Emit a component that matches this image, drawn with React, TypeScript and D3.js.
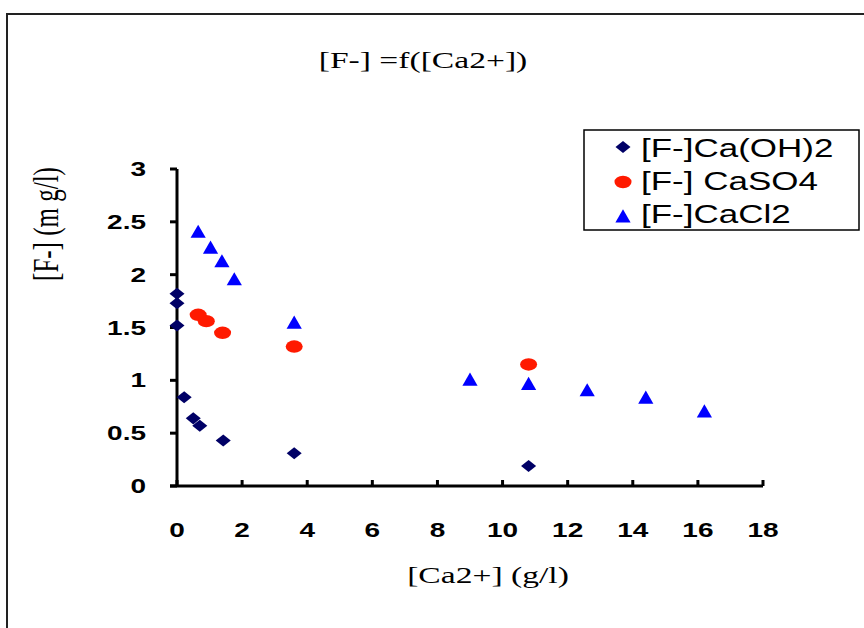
import React from 'react';
import * as d3 from 'd3';

// Ca(OH)2 series (diamonds)
const ohX = [0, 0, 0, 0.22, 0.5, 0.7, 1.42, 3.6, 10.8];
const ohY = [1.82, 1.73, 1.52, 0.84, 0.64, 0.57, 0.43, 0.31, 0.19];
// CaSO4 series (circles)
const so4X = [0.65, 0.9, 1.4, 3.6, 10.8];
const so4Y = [1.62, 1.56, 1.45, 1.32, 1.15];
// CaCl2 series (triangles)
const cl2X = [0.65, 1.03, 1.38, 1.76, 3.6, 9.0, 10.8, 12.6, 14.4, 16.2];
const cl2Y = [2.4, 2.25, 2.12, 1.95, 1.54, 1.0, 0.96, 0.9, 0.83, 0.7];

const xTicks = [0, 2, 4, 6, 8, 10, 12, 14, 16, 18];
const yTicks = [0, 0.5, 1, 1.5, 2, 2.5, 3];
const legendLabels = ['[F-]Ca(OH)2', '[F-] CaSO4', '[F-]CaCl2'];

const SX = 1.4; // the picture is stretched sideways

function Marker({kind, x, y}: {kind: string, x: number, y: number}) {
    if (kind === 'circle') {
        return <ellipse cx={x} cy={y} rx={8.5} ry={6.2} fill="#ff1a00" />;
    }
    if (kind === 'diamond') {
        const d = d3.symbol().type(d3.symbolDiamond2).size(92)() as string;
        return <path d={d} transform={`translate(${x}, ${y}) scale(1.25, 1)`} fill="#000066" />;
    }
    const d = d3.symbol().type(d3.symbolTriangle).size(100)() as string;
    return <path d={d} transform={`translate(${x}, ${y + 1})`} fill="#0000ff" />;
}

export default function App() {
    const scaleX = d3.scaleLinear().domain([0, 18]).range([177, 763]);
    const scaleY = d3.scaleLinear().domain([0, 3]).range([486, 169]);

    const series = [
        {kind: 'diamond', xs: ohX, ys: ohY},
        {kind: 'circle', xs: so4X, ys: so4Y},
        {kind: 'triangle', xs: cl2X, ys: cl2Y},
    ];

    const axisColor = '#000';
    const x0 = scaleX(0), y0 = scaleY(0);

    return (
        <svg width={864} height={628} xmlns="http://www.w3.org/2000/svg"
             style={{position: 'absolute', left: 0, top: 0, background: '#fff'}}>
            <rect x={0} y={0} width={864} height={628} fill="#fff" />
            <rect x={7} y={14} width={900} height={700} fill="none" stroke="#222" strokeWidth={2} />

            <text transform={`translate(423, 68) scale(${SX}, 1)`} textAnchor="middle"
                  fontFamily="Liberation Serif, Times New Roman, serif" fontSize={24} fill="#000">
                [F-] =f([Ca2+])
            </text>

            {/* axes */}
            <line x1={x0} x2={x0} y1={scaleY(3)} y2={y0} stroke={axisColor} strokeWidth={3} />
            <line x1={x0 - 7} x2={scaleX(18)} y1={y0} y2={y0} stroke={axisColor} strokeWidth={3} />
            {yTicks.map((v, i) =>
                <g key={`TickY_${i}`}>
                    <line x1={x0 - 7} x2={x0} y1={scaleY(v)} y2={scaleY(v)} stroke={axisColor} strokeWidth={3} />
                    <text transform={`translate(146, ${scaleY(v) + 7}) scale(${SX}, 1)`} textAnchor="end"
                          fontFamily="Liberation Sans, Arial, sans-serif" fontWeight="bold" fontSize={20} fill="#000">
                        {v}
                    </text>
                </g>
            )}
            {xTicks.map((v, i) =>
                <g key={`TickX_${i}`}>
                    <line x1={scaleX(v)} x2={scaleX(v)} y1={y0} y2={y0 - 6} stroke={axisColor} strokeWidth={3} />
                    <text transform={`translate(${scaleX(v)}, 537) scale(${SX}, 1)`} textAnchor="middle"
                          fontFamily="Liberation Sans, Arial, sans-serif" fontWeight="bold" fontSize={20} fill="#000">
                        {v}
                    </text>
                </g>
            )}

            <text transform={`translate(488, 583) scale(${SX}, 1)`} textAnchor="middle"
                  fontFamily="Liberation Serif, Times New Roman, serif" fontSize={24} fill="#000">
                [Ca2+] (g/l)
            </text>
            <text transform={`translate(58, 224) scale(${SX}, 1) rotate(-90)`} textAnchor="middle"
                  fontFamily="Liberation Serif, Times New Roman, serif" fontSize={25} fill="#000">
                [F-] (m g/l)
            </text>

            {/* points */}
            {series.map((s, si) =>
                <g key={`Series_${si}`}>
                    {s.xs.map((v, i) =>
                        <Marker key={`P_${si}_${i}`} kind={s.kind} x={scaleX(v)} y={scaleY(s.ys[i])} />
                    )}
                </g>
            )}

            {/* legend */}
            <rect x={584} y={130} width={275} height={100} fill="#fff" stroke="#000" strokeWidth={1.5} />
            {legendLabels.map((label, i) =>
                <g key={`Legend_${i}`}>
                    <Marker kind={series[i].kind} x={623} y={147 + i * 35} />
                    <text transform={`translate(641, ${157 + i * 33}) scale(${SX}, 1)`}
                          fontFamily="Liberation Sans, Arial, sans-serif" fontSize={25} fill="#000">
                        {label}
                    </text>
                </g>
            )}
        </svg>
    );
}
